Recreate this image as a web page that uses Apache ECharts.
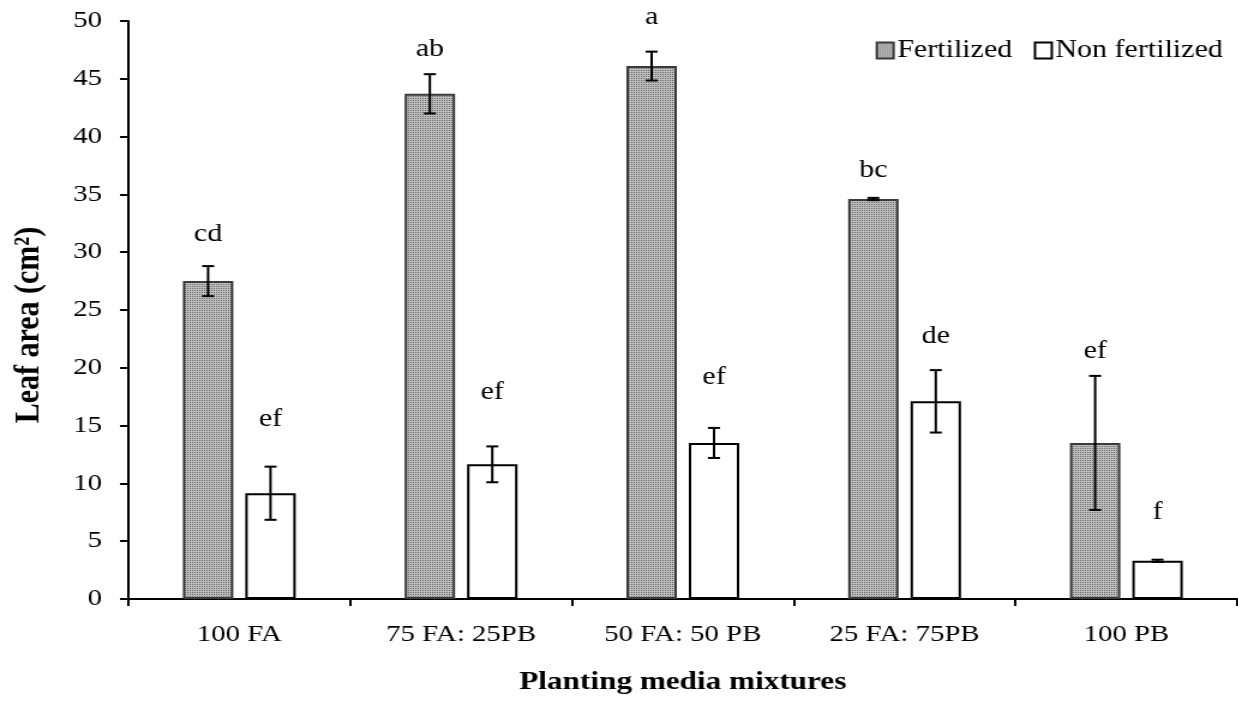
<!DOCTYPE html>
<html>
<head>
<meta charset="utf-8">
<script src="https://cdn.jsdelivr.net/npm/echarts@6/dist/echarts.min.js"></script>
<style>
  html, body { margin: 0; padding: 0; background: #fff; overflow: hidden; }
  /* the original export is stretched sideways, so the chart is too */
  #main { width: 1032px; height: 723px; transform: scaleX(1.2); transform-origin: 0 0; }
</style>
</head>
<body>
<div id="main"></div>
<script type="text/javascript">
// chart data
var categories = ['100 FA', '75 FA: 25PB', '50 FA: 50 PB', '25 FA: 75PB', '100 PB'];
var fertilized = [27.5, 43.7, 46.1, 34.6, 13.5];
var fertErr = [1.3, 1.7, 1.25, 0.1, 5.8];
var nonFertilized = [9.15, 11.65, 13.5, 17.1, 3.3];
var nonErr = [2.3, 1.55, 1.3, 2.7, 0.1];
var fertLetters = ['cd', 'ab', 'a', 'bc', 'ef'];
var nonLetters = ['ef', 'ef', 'ef', 'de', 'f'];
// height (in axis units) where each letter sits
var fertLetterAt = [31.5, 47.5, 50.3, 37.1, 21.4];
var nonLetterAt = [15.5, 17.9, 19.2, 22.7, 7.5];
var yTicks = { min: 0, max: 50, interval: 5 };

var FONT = '"Liberation Serif", "Times New Roman", serif';
var BAR_W = 42;
var GAP = 10;

// grey dotted fill like the excel pattern
var pat = document.createElement('canvas');
pat.width = 4; pat.height = 4;
var pc = pat.getContext('2d');
pc.fillStyle = '#bdbdbd';
pc.fillRect(0, 0, 4, 4);
pc.fillStyle = '#6a6a6a';
pc.fillRect(0, 0, 1, 1);
pc.fillRect(2, 2, 1, 1);
pc.fillRect(2, 0, 1, 1);
pc.fillRect(0, 2, 1, 1);
var fertFill = { image: pat, repeat: 'repeat' };

var myChart = echarts.init(document.getElementById('main'));

function errData(vals, errs, letters, at) {
  return vals.map(function (v, i) {
    return [i, v - errs[i], v + errs[i], letters[i], at[i]];
  });
}

function errRender(shift) {
  return function (params, api) {
    var idx = api.value(0);
    var lo = api.coord([idx, api.value(1)]);
    var hi = api.coord([idx, api.value(2)]);
    var tp = api.coord([idx, api.value(4)]);
    var x = lo[0] + shift;
    var cap = 5;
    var st = { stroke: '#000', lineWidth: 2 };
    return {
      type: 'group',
      children: [
        { type: 'line', shape: { x1: x, y1: lo[1], x2: x, y2: hi[1] }, style: st },
        { type: 'line', shape: { x1: x - cap, y1: lo[1], x2: x + cap, y2: lo[1] }, style: st },
        { type: 'line', shape: { x1: x - cap, y1: hi[1], x2: x + cap, y2: hi[1] }, style: st },
        { type: 'text', x: x, y: tp[1], style: {
            text: api.value(3), fill: '#000', font: '25px ' + FONT,
            align: 'center', verticalAlign: 'middle' } }
      ]
    };
  };
}

var option = {
  animation: false,
  backgroundColor: '#fff',
  grid: { left: 107, right: 1, top: 21, bottom: 124 },
  legend: {
    data: ['Fertilized', 'Non fertilized'],
    right: 8,
    top: 33,
    icon: 'rect',
    itemWidth: 14,
    itemHeight: 16,
    itemGap: 18,
    textStyle: { fontFamily: FONT, fontSize: 25, color: '#000', padding: [0, 0, 0, -2] }
  },
  xAxis: {
    type: 'category',
    data: categories,
    name: 'Planting media mixtures',
    nameLocation: 'middle',
    nameGap: 70,
    nameTextStyle: { fontFamily: FONT, fontSize: 26, fontWeight: 'bold', color: '#000' },
    axisLine: { lineStyle: { color: '#000', width: 2 } },
    axisTick: { show: true, length: 7, lineStyle: { color: '#000', width: 2 } },
    axisLabel: { fontFamily: FONT, fontSize: 24, color: '#000', margin: 24 }
  },
  yAxis: {
    type: 'value',
    min: yTicks.min,
    max: yTicks.max,
    interval: yTicks.interval,
    name: 'Leaf area (cm²)',
    nameLocation: 'middle',
    nameGap: 68,
    nameTextStyle: { fontFamily: FONT, fontSize: 30, fontWeight: 'bold', color: '#000', padding: [0, 30, 0, 0] },
    splitLine: { show: false },
    axisLine: { show: true, lineStyle: { color: '#000', width: 2 } },
    axisTick: { show: true, length: 7, lineStyle: { color: '#000', width: 2 } },
    axisLabel: { fontFamily: FONT, fontSize: 24, color: '#000', margin: 22 }
  },
  series: [
    {
      name: 'Fertilized',
      type: 'bar',
      barWidth: BAR_W,
      barGap: (GAP / BAR_W * 100) + '%',
      data: fertilized,
      itemStyle: { color: fertFill, borderColor: '#3a3a3a', borderWidth: 2 }
    },
    {
      name: 'Non fertilized',
      type: 'bar',
      barWidth: BAR_W,
      data: nonFertilized,
      itemStyle: { color: '#fff', borderColor: '#000', borderWidth: 2 }
    },
    {
      type: 'custom',
      renderItem: errRender(-(BAR_W + GAP) / 2),
      data: errData(fertilized, fertErr, fertLetters, fertLetterAt),
      z: 5
    },
    {
      type: 'custom',
      renderItem: errRender((BAR_W + GAP) / 2),
      data: errData(nonFertilized, nonErr, nonLetters, nonLetterAt),
      z: 5
    }
  ]
};

myChart.setOption(option);
</script>
</body>
</html>
